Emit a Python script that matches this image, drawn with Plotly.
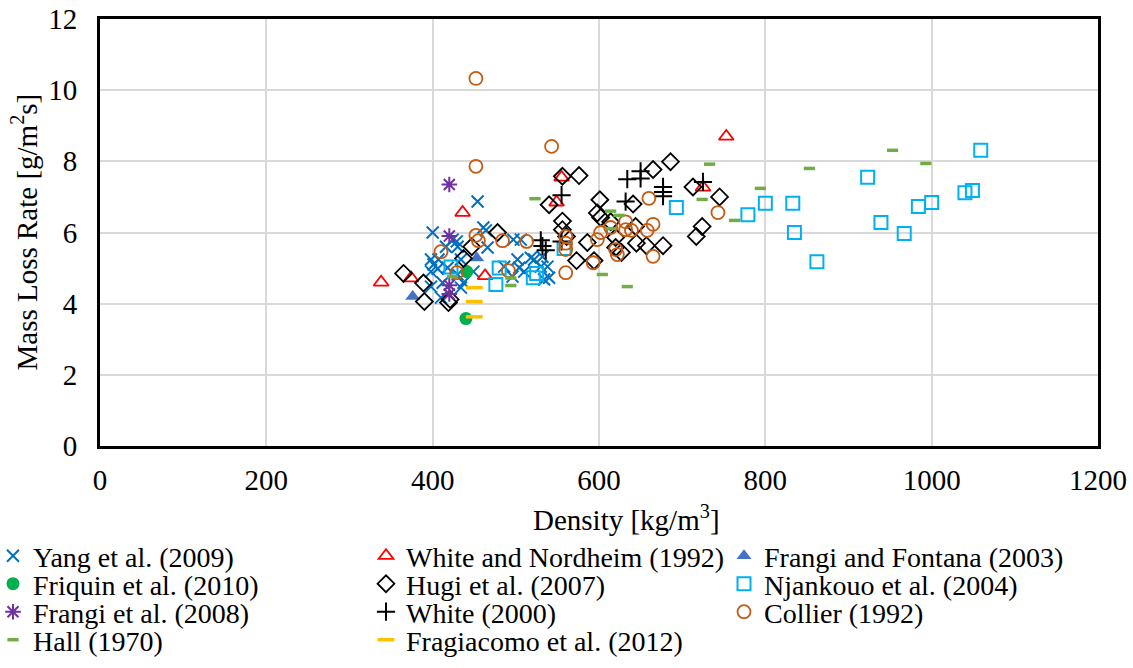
import plotly.graph_objects as go

# ---------------- data (density kg/m3, mass loss rate g/m2s) ----------------
yang_density = [400, 454, 461, 464, 429, 424, 497, 506, 416, 430, 466, 398, 407, 434, 502, 518, 532,
                401, 406, 418, 486, 530, 538, 398, 449, 510, 430, 496, 534, 540, 412, 437, 398, 434,
                410, 522, 504]
yang_mlr = [6.0, 6.87, 6.14, 6.06, 5.75, 5.8, 5.8, 5.8, 5.6, 5.6, 5.58, 5.24, 5.24, 5.24, 5.24, 5.29, 5.32,
            5.1, 4.98, 5.01, 5.04, 5.04, 5.04, 4.9, 4.9, 4.9, 4.82, 4.76, 4.68, 4.73, 4.59, 4.59, 4.48, 4.45,
            4.17, 5.24, 5.01]

wn_density = [338, 374, 436, 463, 555, 549, 725, 753]
wn_mlr = [4.6, 4.72, 6.56, 4.78, 7.55, 6.85, 7.27, 8.7]

ff_density = [376, 453]
ff_mlr = [4.2, 5.28]

friquin_density = [441, 440]
friquin_mlr = [4.9, 3.58]

hugi_density = [365, 389, 390, 419, 421, 437, 447, 478, 556, 576, 540, 556, 556, 561, 586, 573, 594, 601,
                598, 602, 614, 620, 627, 641, 644, 645, 657, 677, 665, 686, 713, 717, 724, 745, 620]
hugi_mlr = [4.85, 4.58, 4.06, 4.03, 4.12, 5.27, 5.6, 6.0, 7.58, 7.6, 6.78, 6.32, 6.08, 5.89, 5.72, 5.21, 5.21,
            6.92, 6.55, 6.42, 6.3, 5.86, 5.44, 6.8, 6.17, 5.7, 5.63, 5.63, 7.77, 7.99, 7.28, 5.89, 6.17, 7.0,
            5.58]

nj_density = [422, 476, 480, 521, 525, 558, 693, 779, 800, 833, 835, 862, 923, 939, 967, 984, 1000, 1040,
              1049, 1059]
nj_mlr = [5.03, 4.54, 5.0, 4.73, 4.85, 5.55, 6.7, 6.5, 6.82, 6.82, 6.0, 5.18, 7.55, 6.28, 5.97, 6.73, 6.84,
          7.12, 7.18, 8.31]

frangi08_density = [420, 420, 420, 420]
frangi08_mlr = [7.35, 5.9, 4.52, 4.27]

white00_density = [530, 532, 536, 555, 555, 634, 650, 650, 632, 677, 677, 677, 725]
white00_mlr = [5.78, 5.62, 5.5, 5.75, 7.05, 7.5, 7.72, 7.52, 6.87, 7.28, 7.14, 7.02, 7.42]

collier_density = [452, 543, 452, 452, 455, 484, 513, 410, 429, 491, 560, 560, 560, 560, 593, 602, 614,
                   620, 632, 632, 660, 639, 665, 658, 622, 665, 743, 598]
collier_mlr = [10.33, 8.42, 7.86, 5.92, 5.77, 5.77, 5.75, 5.46, 4.87, 4.93, 5.89, 5.7, 5.52, 4.87, 5.15, 6.0,
               6.14, 5.52, 6.3, 6.08, 6.96, 6.06, 6.23, 6.06, 5.38, 5.33, 6.56, 5.8]

hall_density = [424, 494, 494, 523, 604, 614, 624, 614, 634, 724, 733, 763, 794, 853, 953, 993]
hall_mlr = [4.76, 4.72, 4.51, 6.95, 4.82, 6.6, 6.48, 6.11, 4.48, 6.93, 7.92, 6.34, 7.24, 7.8, 8.31, 7.94]

fragiacomo_density = [450, 450, 450]
fragiacomo_mlr = [4.45, 4.06, 3.63]

x_ticks = [0, 200, 400, 600, 800, 1000, 1200]
y_ticks = [0, 2, 4, 6, 8, 10, 12]

FONT = "'Liberation Serif', 'Times New Roman', Times, serif"
FS = 29
LFS = 28

series = [
    ("Yang et al. (2009)", yang_density, yang_mlr, dict(symbol="x-thin-open", size=12, color="#0070C0", line=dict(color="#0070C0", width=2))),
    ("White and Nordheim (1992)", wn_density, wn_mlr, dict(symbol="triangle-up-open", size=13, color="#FF0000", line=dict(color="#FF0000", width=1.8))),
    ("Frangi and Fontana (2003)", ff_density, ff_mlr, dict(symbol="triangle-up", size=13, color="#4472C4", line=dict(width=0))),
    ("Friquin et al. (2010)", friquin_density, friquin_mlr, dict(symbol="circle", size=13, color="#00B050", line=dict(width=0))),
    ("Hugi et al. (2007)", hugi_density, hugi_mlr, dict(symbol="diamond-open", size=13, color="#000000", line=dict(color="#000000", width=1.8))),
    ("Njankouo et al. (2004)", nj_density, nj_mlr, dict(symbol="square-open", size=13, color="#00B0F0", line=dict(color="#00B0F0", width=2))),
    ("Frangi et al. (2008)", frangi08_density, frangi08_mlr, dict(symbol="asterisk-open", size=13, color="#7030A0", line=dict(color="#7030A0", width=2))),
    ("White (2000)", white00_density, white00_mlr, dict(symbol="cross-thin-open", size=13, color="#000000", line=dict(color="#000000", width=2))),
    ("Collier (1992)", collier_density, collier_mlr, dict(symbol="circle-open", size=13, color="#C55A11", line=dict(color="#C55A11", width=1.8))),
    ("Hall (1970)", hall_density, hall_mlr, dict(symbol="line-ew-open", size=8, color="#70AD47", line=dict(color="#70AD47", width=3.5))),
    ("Fragiacomo et al. (2012)", fragiacomo_density, fragiacomo_mlr, dict(symbol="line-ew-open", size=12, color="#FFC000", line=dict(color="#FFC000", width=3.5))),
]

PLOT_L, PLOT_R, PLOT_T, PLOT_B = 100, 1098, 19, 446
W, H = 1133, 668
col_left_px = [-7, 366, 724]
row_px = [556, 584, 612, 640]

fig = go.Figure()
layout_legends = {}
for i, (name, xs, ys, mk) in enumerate(series):
    lname = "legend" if i == 0 else f"legend{i + 1}"
    fig.add_trace(go.Scatter(x=xs, y=ys, mode="markers", name=name, marker=mk,
                             legend=lname, showlegend=True))
    r, c = divmod(i, 3)
    xp = (col_left_px[c] - PLOT_L) / (PLOT_R - PLOT_L)
    yp = (PLOT_B - row_px[r]) / (PLOT_B - PLOT_T)
    layout_legends[lname] = dict(x=xp, y=yp, xanchor="left", yanchor="middle",
                                 orientation="h", bgcolor="rgba(0,0,0,0)",
                                 font=dict(family=FONT, size=LFS, color="#000000"),
                                 itemsizing="trace")

fig.update_layout(**layout_legends)

fig.update_layout(
    width=W, height=H,
    margin=dict(l=PLOT_L, r=W - PLOT_R, t=PLOT_T, b=H - PLOT_B, autoexpand=False),
    paper_bgcolor="white", plot_bgcolor="white",
    font=dict(family=FONT, size=FS, color="#000000"),
    xaxis=dict(range=[0, 1200], tickvals=x_ticks, ticktext=[str(v) for v in x_ticks],
               showgrid=True, gridcolor="#D9D9D9", gridwidth=1.5, zeroline=False,
               showline=True, linecolor="#000000", linewidth=3, mirror=True,
               ticks="", ticklabelstandoff=6,
               tickfont=dict(family=FONT, size=FS, color="#000000")),
    yaxis=dict(range=[0, 12], tickvals=y_ticks, ticktext=[str(v) for v in y_ticks],
               showgrid=True, gridcolor="#D9D9D9", gridwidth=1.5, zeroline=False,
               showline=True, linecolor="#000000", linewidth=3, mirror=True,
               ticks="", ticklabelstandoff=14,
               tickfont=dict(family=FONT, size=FS, color="#000000")),
    annotations=[
        dict(text="Density [kg/m<sup>3</sup>]", xref="paper", yref="paper",
             x=(626 - PLOT_L) / (PLOT_R - PLOT_L), y=(PLOT_B - 518) / (PLOT_B - PLOT_T),
             xanchor="center", yanchor="middle", showarrow=False,
             font=dict(family=FONT, size=FS, color="#000000")),
        dict(text="Mass Loss Rate [g/m<sup>2</sup>s]", xref="paper", yref="paper",
             x=(24 - PLOT_L) / (PLOT_R - PLOT_L), y=0.5, textangle=-90,
             xanchor="center", yanchor="middle", showarrow=False,
             font=dict(family=FONT, size=FS, color="#000000")),
    ],
)

fig.write_html("out.html")
